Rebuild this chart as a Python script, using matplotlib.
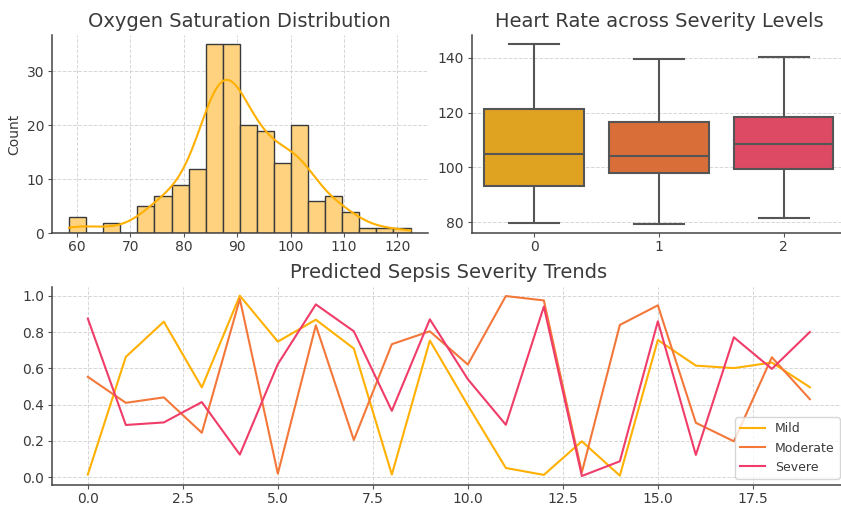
import matplotlib
matplotlib.use('Agg')
import matplotlib.pyplot as plt
import numpy as np

# Oxygen saturation histogram (20 bins, counts)
o2_edges = np.linspace(58.5, 122.5, 21)
o2_counts = [3, 0, 2, 0, 5, 7, 9, 12, 35, 35, 20, 19, 13, 20, 6, 7, 4, 1, 1, 1]

# Heart rate box statistics per severity level
severity_levels = [0, 1, 2]
hr_low = [79.8, 79.2, 81.6]
hr_q1 = [93.3, 97.9, 99.2]
hr_median = [104.8, 104.1, 108.4]
hr_q3 = [121.2, 116.6, 118.3]
hr_high = [145.0, 139.4, 140.2]

# Predicted severity trends
steps = list(range(20))
mild = [0.015, 0.663, 0.857, 0.495, 1.0, 0.747, 0.868, 0.709, 0.015, 0.753,
        0.396, 0.051, 0.013, 0.198, 0.009, 0.756, 0.615, 0.601, 0.632, 0.496]
moderate = [0.553, 0.410, 0.440, 0.245, 0.982, 0.020, 0.837, 0.205, 0.733, 0.804,
            0.621, 0.998, 0.974, 0.027, 0.839, 0.947, 0.300, 0.198, 0.661, 0.430]
severe = [0.874, 0.288, 0.302, 0.414, 0.125, 0.623, 0.952, 0.804, 0.366, 0.870,
          0.540, 0.289, 0.940, 0.007, 0.088, 0.859, 0.123, 0.771, 0.597, 0.800]

text_c = '#3a3a3a'
plt.rcParams.update({
    'font.family': 'DejaVu Sans',
    'text.color': text_c,
    'axes.labelcolor': text_c,
    'xtick.color': '#555555',
    'ytick.color': '#555555',
    'xtick.labelcolor': text_c,
    'ytick.labelcolor': text_c,
    'axes.edgecolor': '#444444',
    'axes.linewidth': 1.1,
    'xtick.labelsize': 10,
    'ytick.labelsize': 10,
    'xtick.major.size': 3,
    'ytick.major.size': 3,
    'xtick.major.pad': 2,
    'ytick.major.pad': 2.5,
})


def style_axes(ax, xgrid=True):
    for s in ['top', 'right']:
        ax.spines[s].set_visible(False)
    ax.grid(True, axis='both' if xgrid else 'y', linestyle='--',
            color='#d6d6d6', linewidth=0.7)
    ax.set_axisbelow(True)


fig = plt.figure(figsize=(8.41, 5.05), dpi=100)
ax1 = fig.add_axes([0.0618, 0.538, 0.4467, 0.3927])
ax2 = fig.add_axes([0.5609, 0.538, 0.445, 0.3927])
ax3 = fig.add_axes([0.0615, 0.0396, 0.9444, 0.3927])

# histogram + kde
widths = np.diff(o2_edges)
ax1.bar(o2_edges[:-1], o2_counts, width=widths, align='edge',
        color='#FFD27F', edgecolor='#3a3a3a', linewidth=1)
centers = (o2_edges[:-1] + o2_edges[1:]) / 2
samples = np.repeat(centers, o2_counts)
bw = samples.std(ddof=1) * len(samples) ** (-0.2)
grid = np.linspace(o2_edges[0], o2_edges[-1], 300)
dens = np.exp(-0.5 * ((grid[:, None] - samples[None, :]) / bw) ** 2).sum(axis=1)
dens = dens / (len(samples) * bw * np.sqrt(2 * np.pi))
ax1.plot(grid, dens * len(samples) * widths[0], color='#FFB000', linewidth=1.5)
ax1.set_ylabel('Count', fontsize=10)
ax1.set_title('Oxygen Saturation Distribution', fontsize=14)
style_axes(ax1)

# boxplot
stats = []
for i in range(len(severity_levels)):
    stats.append({'whislo': hr_low[i], 'q1': hr_q1[i], 'med': hr_median[i],
                  'q3': hr_q3[i], 'whishi': hr_high[i], 'fliers': []})
box_colors = ['#DFA221', '#DA6E38', '#DC4A64']
line_kw = dict(color='#555555', linewidth=1.5)
bp = ax2.bxp(stats, positions=severity_levels, widths=0.8, capwidths=0.4,
             patch_artist=True, boxprops=dict(edgecolor='#555555', linewidth=1.5),
             whiskerprops=line_kw, capprops=line_kw, medianprops=line_kw)
for patch, c in zip(bp['boxes'], box_colors):
    patch.set_facecolor(c)
ax2.set_xlim(-0.5, 2.5)
ax2.set_xticks(severity_levels)
ax2.set_xticklabels([str(s) for s in severity_levels])
ax2.set_title('Heart Rate across Severity Levels', fontsize=14)
style_axes(ax2, xgrid=False)

# trends
ax3.plot(steps, mild, color='#FFB000', linewidth=1.5, label='Mild')
ax3.plot(steps, moderate, color='#F4773A', linewidth=1.5, label='Moderate')
ax3.plot(steps, severe, color='#F03C68', linewidth=1.5, label='Severe')
ax3.set_title('Predicted Sepsis Severity Trends', fontsize=14)
ax3.legend(loc='lower right', fontsize=9)
style_axes(ax3)

plt.savefig('out.png', dpi=100)
